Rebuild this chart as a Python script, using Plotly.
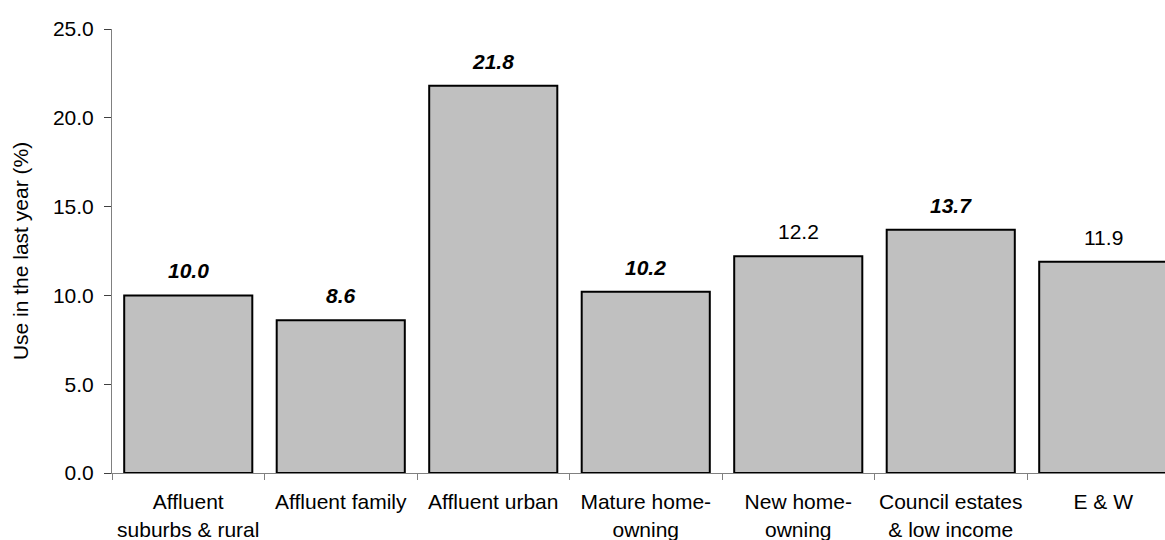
import plotly.graph_objects as go

categories = ["Affluent<br>suburbs & rural", "Affluent family", "Affluent urban",
              "Mature home-<br>owning", "New home-<br>owning",
              "Council estates<br>& low income", "E & W"]
values = [10.0, 8.6, 21.8, 10.2, 12.2, 13.7, 11.9]
significant = [True, True, True, True, False, True, False]
y_ticks = [0, 5, 10, 15, 20, 25]

FONT = "Arial, Liberation Sans, sans-serif"
FS = 21

fig = go.Figure()
fig.add_trace(go.Bar(
    x=categories, y=values,
    marker=dict(color="#c0c0c0", line=dict(color="black", width=2)),
    cliponaxis=True,
    hoverinfo="skip",
))

for c, v, s in zip(categories, values, significant):
    txt = f"<b><i>{v:.1f}</i></b>" if s else f"{v:.1f}"
    fig.add_annotation(x=c, y=v, text=txt, showarrow=False, yanchor="bottom",
                       yshift=11, font=dict(family=FONT, size=FS, color="black"))

n = len(categories)
fig.update_layout(
    width=1165, height=540,
    margin=dict(l=112, r=0, t=29, b=67, autoexpand=False),
    plot_bgcolor="white", paper_bgcolor="white",
    bargap=0.16,
    showlegend=False,
    font=dict(family=FONT, size=FS, color="black"),
    xaxis=dict(
        type="category",
        range=[-0.5, n - 0.5 - 14.5 / 152.5],
        tickson="boundaries",
        tickangle=0,
        automargin=False,
        ticks="outside", ticklen=6, tickcolor="#808080",
        ticklabelstandoff=10,
        showline=True, linecolor="#808080", linewidth=1,
        showgrid=False,
        tickfont=dict(family=FONT, size=FS, color="black"),
        fixedrange=True,
    ),
    yaxis=dict(
        range=[0, 25],
        tickvals=y_ticks,
        tickformat=".1f",
        automargin=False,
        ticks="outside", ticklen=7, tickcolor="#404040",
        showline=True, linecolor="#808080", linewidth=1,
        showgrid=False, zeroline=False,
        ticklabelstandoff=6,
        title=dict(text="Use in the last year (%)", standoff=18,
                   font=dict(family=FONT, size=FS, color="black")),
        tickfont=dict(family=FONT, size=FS, color="black"),
    ),
)

fig.write_html("out.html")
